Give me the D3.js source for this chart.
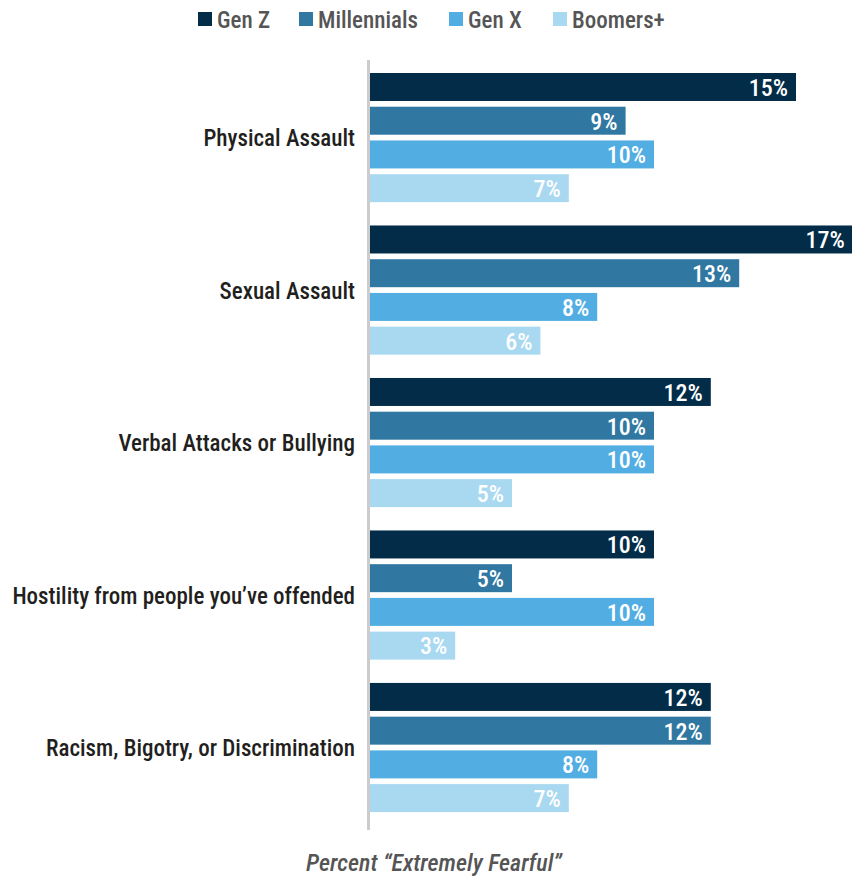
<!DOCTYPE html>
<html><head><meta charset="utf-8">
<script src="https://cdn.jsdelivr.net/npm/d3@7"></script>
<style>body{margin:0;background:#fff}svg{display:block}</style>
</head><body>
<svg id="c" width="852" height="877"></svg>
<script>
const categories = ["Physical Assault","Sexual Assault","Verbal Attacks or Bullying","Hostility from people you\u2019ve offended","Racism, Bigotry, or Discrimination"];
const seriesNames = ["Gen Z","Millennials","Gen X","Boomers+"];
const genZ = [15,17,12,10,12];
const millennials = [9,13,10,5,12];
const genX = [10,8,10,10,8];
const boomers = [7,6,5,3,7];
const colors = ["#022c48","#3078a2","#52aee2","#a9d8f1"];
const axisTitle = "Percent \u201cExtremely Fearful\u201d";

const seriesValues = [genZ, millennials, genX, boomers];
const font = "'Roboto Condensed','Liberation Sans Narrow','Arial Narrow',sans-serif";
const svg = d3.select("#c");

const x = d3.scaleLinear().domain([0,17]).range([370,852.8]);
const y0 = d3.scaleBand().domain(categories).range([73,812.1]).paddingInner(0.153).paddingOuter(0);
const y1 = d3.scaleBand().domain(seriesNames).range([0,y0.bandwidth()]).paddingInner(0.17).paddingOuter(0);

const data = [];
categories.forEach((c,i)=>seriesNames.forEach((s,j)=>data.push({c,s,j,v:seriesValues[j][i]})));

svg.selectAll("rect.bar").data(data).join("rect").attr("class","bar")
  .attr("x",x(0)).attr("y",d=>y0(d.c)+y1(d.s))
  .attr("width",d=>x(d.v)-x(0)).attr("height",y1.bandwidth())
  .attr("fill",d=>colors[d.j]);

svg.selectAll("text.val").data(data).join("text").attr("class","val")
  .attr("x",d=>x(d.v)-8).attr("y",d=>y0(d.c)+y1(d.s)+y1.bandwidth()/2)
  .attr("dy","0.37em").attr("text-anchor","end")
  .attr("fill","#fff").attr("font-family",font).attr("font-size",24).attr("font-weight",500)
  .text(d=>d.v+"%");

// axis line
svg.append("line").attr("x1",368.5).attr("x2",368.5).attr("y1",60).attr("y2",830)
  .attr("stroke","#cccccc").attr("stroke-width",3);

// category labels
const yAxis = d3.axisLeft(y0).tickSize(0).tickPadding(0);
const ga = svg.append("g").attr("transform","translate(355,0)").call(yAxis);
ga.select(".domain").remove();
ga.selectAll("text").attr("font-family",font).attr("font-size",23).attr("font-weight",500).attr("fill","#231f20").attr("dy","0.37em");

// legend
const legX = [198,299,449,553];
const lg = svg.append("g");
seriesNames.forEach((s,j)=>{
  lg.append("rect").attr("x",legX[j]).attr("y",12).attr("width",14).attr("height",14).attr("fill",colors[j]);
  lg.append("text").attr("x",legX[j]+19).attr("y",19).attr("dy","0.37em")
    .attr("font-family",font).attr("font-size",23).attr("font-weight",500).attr("fill","#555555").text(s);
});

svg.append("text").attr("x",434).attr("y",862).attr("dy","0.37em").attr("text-anchor","middle")
  .attr("font-family",font).attr("font-size",24).attr("font-style","italic").attr("font-weight",500).attr("fill","#555555")
  .text(axisTitle);
</script>
</body></html>
